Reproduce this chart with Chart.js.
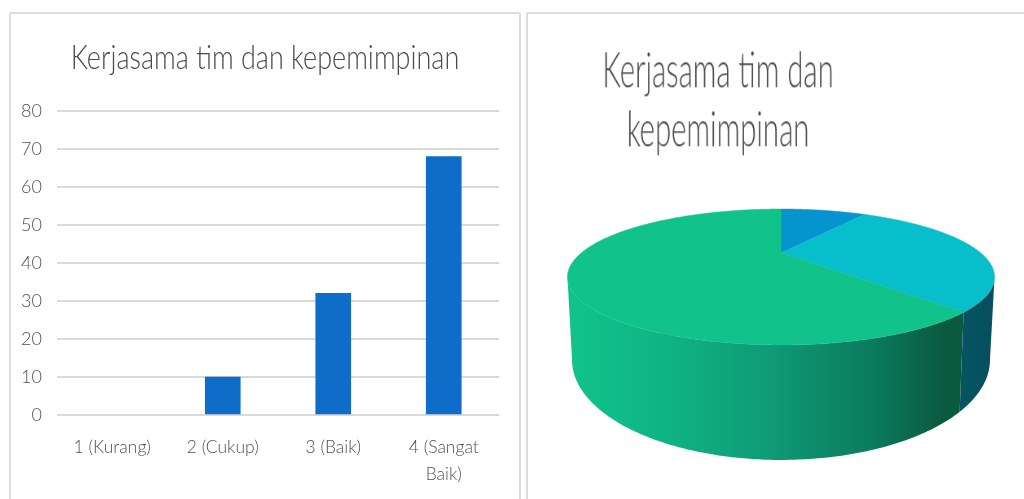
<!DOCTYPE html>
<html lang="id">
<head>
    <meta charset="UTF-8">
    <title>Kerjasama tim dan kepemimpinan</title>
    <script src="https://cdn.jsdelivr.net/npm/chart.js"></script>
    <style>
        html, body {
            margin: 0;
            padding: 0;
            background: #ffffff;
            overflow: hidden;
        }
        .stage {
            position: relative;
            width: 1024px;
            height: 499px;
            overflow: hidden;
        }
        .panel {
            position: absolute;
            top: 12px;
            height: 500px;
            border: 2px solid #dcdcdc;
            border-radius: 2px;
            box-sizing: border-box;
        }
        #panelLeft { left: 9px; width: 512px; }
        #panelRight { left: 526px; width: 510px; }
        #barChart { position: absolute; left: 0; top: 0; }
        #pieChart { position: absolute; left: 527px; top: 190px; }
        .pie-title {
            position: absolute;
            left: 518px;
            width: 400px;
            text-align: center;
            font-family: Lato, sans-serif;
            font-weight: 300;
            font-size: 36px;
            line-height: 44px;
            color: #4a4a4a;
            white-space: nowrap;
            transform: scale(0.815, 1.35);
            will-change: transform;
        }
    </style>
</head>
<body>
    <div class="stage">
        <div class="panel" id="panelLeft"></div>
        <div class="panel" id="panelRight"></div>
        <canvas id="barChart" width="525" height="499"></canvas>
        <div class="pie-title" style="top: 46px;">Kerjasama tim dan</div>
        <div class="pie-title" style="top: 105px;">kepemimpinan</div>
        <canvas id="pieChart" width="497" height="290"></canvas>
    </div>

    <script>
        const chartTitle = "Kerjasama tim dan kepemimpinan";
        const categories = ["1 (Kurang)", "2 (Cukup)", "3 (Baik)", ["4 (Sangat", "Baik)"]];
        const values = [0, 10, 32, 68];
        const yMax = 80;
        const yStep = 10;

        const barColor = "#0f6cc8";
        const sliceColors = ["#0694ce", "#0694ce", "#09becb", "#11c38a"];
        const tiltBack = 0.353;

        // Perspective of the pie, in canvas pixels: top face and bottom rim
        const topFace = { cx: 254, cy: 63, rx: 199.8, ry: 59.5 };
        const bottomRim = { cx: 254, cy: 134.7, rx: 195.5, ry: 87.5 };

        function project(face, angle) {
            let u = Math.cos(angle);
            let v = Math.sin(angle);
            let w = 1 / (1 - tiltBack * v);
            return { x: face.cx + face.rx * u * w, y: face.cy + face.ry * v * w };
        }

        function traceArc(ctx, face, from, to, moveFirst) {
            let steps = Math.max(2, Math.ceil(Math.abs(to - from) / 0.01));
            for (let i = 0; i <= steps; i++) {
                let p = project(face, from + (to - from) * i / steps);
                if (i === 0 && moveFirst) ctx.moveTo(p.x, p.y);
                else ctx.lineTo(p.x, p.y);
            }
        }

        function wallFill(ctx, index) {
            let gradient = ctx.createLinearGradient(46, 0, 470, 0);
            if (index === 2) {
                gradient.addColorStop(0.8, "#075c68");
                gradient.addColorStop(1, "#054e5e");
            } else {
                gradient.addColorStop(0, "#11c38a");
                gradient.addColorStop(0.2, "#10b584");
                gradient.addColorStop(0.45, "#0f9c76");
                gradient.addColorStop(0.7, "#0b7c5e");
                gradient.addColorStop(0.87, "#0a5a40");
                gradient.addColorStop(1, "#0a5a40");
            }
            return gradient;
        }

        // Draws the side wall, and swaps each arc's draw for the projected top face
        const pie3d = {
            id: "pie3d",
            beforeDatasetsDraw(chart) {
                let ctx = chart.ctx;
                let arcs = chart.getDatasetMeta(0).data;
                let frontFrom = Math.asin(tiltBack);
                let frontTo = Math.PI - frontFrom;

                [3, 2].forEach((index) => {
                    let from = Math.max(arcs[index].startAngle, frontFrom);
                    let to = Math.min(arcs[index].endAngle, frontTo);
                    if (to <= from) return;
                    ctx.save();
                    ctx.beginPath();
                    traceArc(ctx, topFace, from, to, true);
                    traceArc(ctx, bottomRim, to, from, false);
                    ctx.closePath();
                    ctx.fillStyle = wallFill(ctx, index);
                    ctx.fill();
                    ctx.restore();
                });

                arcs.forEach((arc, index) => {
                    arc.draw = function (context) {
                        if (this.endAngle - this.startAngle <= 0) return;
                        context.save();
                        context.beginPath();
                        context.moveTo(topFace.cx, topFace.cy);
                        traceArc(context, topFace, this.startAngle, this.endAngle, false);
                        context.closePath();
                        context.fillStyle = sliceColors[index];
                        context.strokeStyle = sliceColors[index];
                        context.lineWidth = 0.5;
                        context.fill();
                        context.stroke();
                        context.restore();
                    };
                });
            }
        };

        // The reference title is narrower than Lato and sits right of the plot centre
        const narrowTitle = {
            id: "narrowTitle",
            afterLayout(chart) {
                let block = chart.titleBlock;
                let drawTitle = block.draw;
                block.draw = function () {
                    let ctx = chart.ctx;
                    ctx.save();
                    ctx.translate(265, 0);
                    ctx.scale(0.9, 1.08);
                    ctx.translate(-249.5, -4);
                    drawTitle.call(block);
                    ctx.restore();
                };
            }
        };

        new Chart(document.getElementById("barChart"), {
            type: "bar",
            data: {
                labels: categories,
                datasets: [{
                    label: chartTitle,
                    data: values,
                    backgroundColor: (c) => (c.raw === 0 ? "transparent" : barColor),
                    barThickness: 35
                }]
            },
            options: {
                responsive: false,
                animation: false,
                layout: { padding: { left: 0, right: 26, top: 0, bottom: 0 } },
                plugins: {
                    legend: { display: false },
                    tooltip: { enabled: false },
                    title: {
                        display: true,
                        text: chartTitle,
                        color: "#4a4a4a",
                        font: { family: "Lato, sans-serif", size: 30, weight: "300", lineHeight: 1.2 },
                        padding: { top: 40, bottom: 35 }
                    }
                },
                scales: {
                    x: {
                        grid: { display: false },
                        border: { display: false },
                        ticks: {
                            color: "#505050",
                            font: { family: "Lato, sans-serif", size: 17.5, weight: "300", lineHeight: 1.55 },
                            padding: 11,
                            maxRotation: 0,
                            autoSkip: false
                        },
                        afterFit: (scale) => { scale.height = 84; }
                    },
                    y: {
                        min: 0,
                        max: yMax,
                        grid: { color: "#d9d9d9", lineWidth: 2, drawTicks: false },
                        border: { display: false },
                        ticks: {
                            stepSize: yStep,
                            color: "#505050",
                            font: { family: "Lato, sans-serif", size: 18, weight: "300" },
                            padding: 15
                        },
                        afterFit: (scale) => { scale.width = 57; }
                    }
                }
            },
            plugins: [narrowTitle]
        });

        new Chart(document.getElementById("pieChart"), {
            type: "pie",
            data: {
                labels: categories,
                datasets: [{
                    data: values,
                    backgroundColor: sliceColors,
                    borderWidth: 0
                }]
            },
            options: {
                responsive: false,
                animation: false,
                plugins: {
                    legend: { display: false },
                    tooltip: { enabled: false }
                }
            },
            plugins: [pie3d]
        });
    </script>
</body>
</html>
